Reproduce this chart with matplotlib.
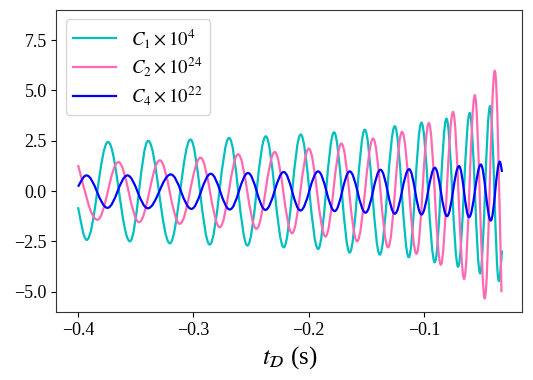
import numpy as np
import matplotlib
matplotlib.use("Agg")
import matplotlib.pyplot as plt
from matplotlib.path import Path
from matplotlib.patches import PathPatch
from matplotlib.lines import Line2D

plt.rcParams['font.family'] = 'serif'
plt.rcParams['font.serif'] = ['Liberation Serif', 'DejaVu Serif']
plt.rcParams['mathtext.fontset'] = 'stix'

# Start point, peaks/troughs and end point (t in s)
c1_t = [-0.4, -0.3925, -0.374, -0.355, -0.3392, -0.3204, -0.3025, -0.2858, -0.269,
        -0.2531, -0.2372, -0.2216, -0.2069, -0.1918, -0.178, -0.1644, -0.1513,
        -0.1383, -0.1253, -0.1132, -0.1022, -0.0906, -0.0805, -0.0704, -0.0603,
        -0.0513, -0.0427, -0.0351, -0.0323]
c1_v = [-0.8, -2.42, 2.44, -2.49, 2.5, -2.59, 2.56, -2.65, 2.64,
        -2.70, 2.72, -2.79, 2.81, -2.87, 2.92, -3.05, 3.05,
        -3.15, 3.22, -3.28, 3.40, -3.53, 3.60, -3.75, 3.88,
        -4.08, 4.22, -4.46, -2.95]

c2_t = [-0.4, -0.3832, -0.365, -0.3471, -0.3291, -0.3118, -0.2938, -0.2771,
        -0.2612, -0.2453, -0.2294, -0.2144, -0.1999, -0.1854, -0.1716, -0.158,
        -0.1441, -0.1311, -0.119, -0.1065, -0.0958, -0.0854, -0.0748, -0.0652,
        -0.0559, -0.0473, -0.0386, -0.0328]
c2_v = [1.3, -1.42, 1.44, -1.54, 1.53, -1.62, 1.66, -1.79,
        1.83, -1.87, 1.94, -2.09, 2.11, -2.25, 2.36, -2.49,
        2.61, -2.79, 2.94, -3.11, 3.38, -3.65, 3.93, -4.36,
        4.76, -5.32, 5.97, -5.02]

c4_t = [-0.4, -0.3927, -0.3745, -0.3572, -0.3395, -0.3196, -0.3017, -0.2849,
        -0.2684, -0.2526, -0.2375, -0.2216, -0.2071, -0.1918, -0.1774, -0.1644,
        -0.1507, -0.1377, -0.1253, -0.1129, -0.1022, -0.0906, -0.08, -0.0696,
        -0.0609, -0.0507, -0.0421, -0.0343, -0.0323]
c4_v = [0.22, 0.78, -0.83, 0.78, -0.85, 0.83, -0.88, 0.86,
        -0.91, 0.90, -0.93, 0.95, -0.96, 0.98, -0.99, 0.98,
        -1.07, 1.06, -1.12, 1.09, -1.16, 1.16, -1.24, 1.24,
        -1.29, 1.32, -1.46, 1.46, 0.95]

labels = [r'$C_1\times10^4$', r'$C_2\times10^{24}$', r'$C_4\times10^{22}$']
colors = ['#00bfbf', '#ff69b4', '#0000ff']


def smooth_path(t, v):
    # cubic Bezier through the points, flat tangents at the peaks/troughs
    n = len(t)
    slopes = []
    for i in range(n):
        if i == 0:
            slopes.append(1.3 * (v[1] - v[0]) / (t[1] - t[0]))
        elif i == n - 1:
            slopes.append(1.3 * (v[-1] - v[-2]) / (t[-1] - t[-2]))
        else:
            slopes.append(0.0)
    verts = [(t[0], v[0])]
    codes = [Path.MOVETO]
    for i in range(n - 1):
        h = 0.3642 * (t[i + 1] - t[i])
        verts += [(t[i] + h, v[i] + slopes[i] * h),
                  (t[i + 1] - h, v[i + 1] - slopes[i + 1] * h),
                  (t[i + 1], v[i + 1])]
        codes += [Path.CURVE4] * 3
    return Path(verts, codes)


fig = plt.figure(figsize=(5.33, 3.80), dpi=100)
ax = fig.add_axes([0.106, 0.179, 0.874, 0.795])

handles = []
for t, v, c, lab in zip([c1_t, c2_t, c4_t], [c1_v, c2_v, c4_v], colors, labels):
    ax.add_patch(PathPatch(smooth_path(t, v), facecolor='none', edgecolor=c, lw=1.6))
    handles.append(Line2D([], [], color=c, lw=1.6, label=lab))

ax.set_xlim(-0.4187, -0.0147)
ax.set_ylim(-6, 9)
ax.set_xticks([-0.4, -0.3, -0.2, -0.1])
ax.set_yticks([-5.0, -2.5, 0.0, 2.5, 5.0, 7.5])
ax.tick_params(labelsize=13)
for s in ax.spines.values():
    s.set_color('#333333')
ax.set_xlabel(r'$t_{\mathcal{D}}$ (s)', fontsize=18)
ax.legend(handles=handles, loc='upper left', fontsize=13.5, labelspacing=0.3,
          handlelength=2.3)

fig.savefig('out.png', dpi=100)
